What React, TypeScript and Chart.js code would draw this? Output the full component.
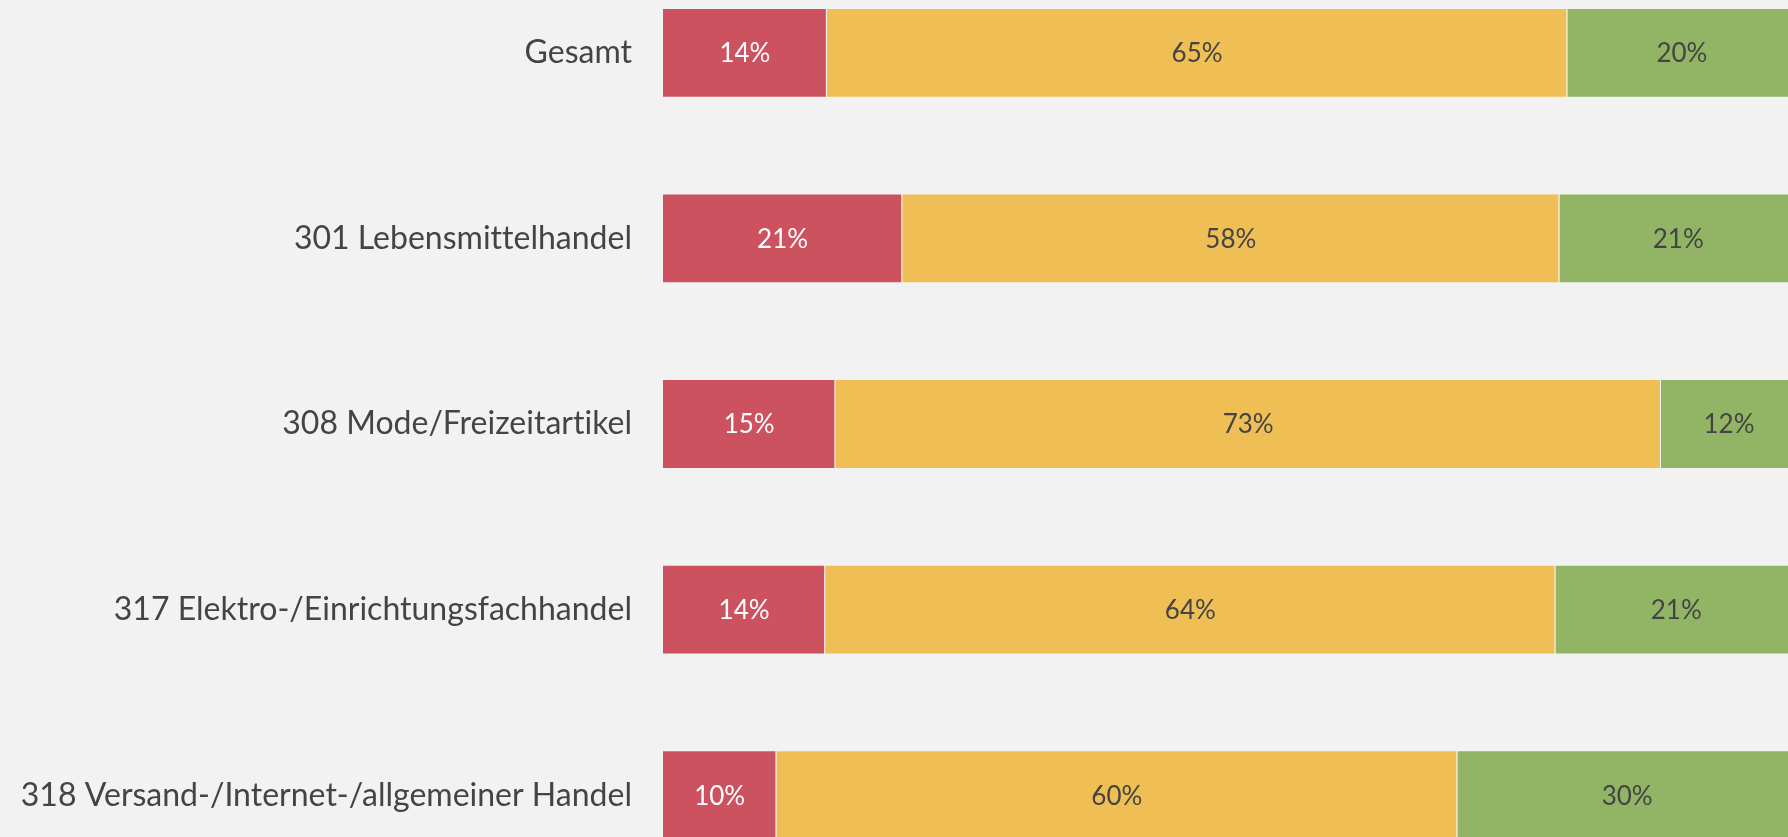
import React, { useEffect, useRef } from "react";
import { Chart, registerables } from "chart.js";

Chart.register(...registerables);

const categories = [
  "Gesamt",
  "301 Lebensmittelhandel",
  "308 Mode/Freizeitartikel",
  "317 Elektro-/Einrichtungsfachhandel",
  "318 Versand-/Internet-/allgemeiner Handel",
];
const negativ = [14.45, 21.1, 15.2, 14.3, 10.0];
const neutral = [65.3, 57.95, 72.8, 64.4, 60.05];
const positiv = [20.2, 20.95, 12.0, 21.3, 29.95];

const seriesNames = ["negativ", "neutral", "positiv"];
const seriesColors = ["#cc5260", "#efbf55", "#91b565"];
const labelColors = ["#ffffff", "#444444", "#444444"];

const FONT = "Lato, 'Noto Sans', sans-serif";

const noLigatures = {
  id: "noLigatures",
  beforeDraw(chart: any) {
    try {
      chart.ctx.letterSpacing = "0.01px";
    } catch (e) {}
  },
};

const valueLabels = {
  id: "valueLabels",
  afterDatasetsDraw(chart: any) {
    const ctx = chart.ctx;
    ctx.save();
    ctx.font = `26px ${FONT}`;
    ctx.textAlign = "center";
    ctx.textBaseline = "middle";
    chart.data.datasets.forEach((ds: any, di: number) => {
      const meta = chart.getDatasetMeta(di);
      meta.data.forEach((el: any, i: number) => {
        const v = ds.data[i];
        const x = (el.x + el.base) / 2;
        ctx.fillStyle = labelColors[di];
        ctx.fillText(Math.round(v) + "%", x, el.y + 1);
      });
    });
    ctx.restore();
  },
};

export default function App() {
  const ref = useRef<HTMLCanvasElement | null>(null);
  useEffect(() => {
    if (!ref.current) return;
    const chart = new Chart(ref.current, {
      type: "bar",
      data: {
        labels: categories,
        datasets: [negativ, neutral, positiv].map((d, i) => ({
          label: seriesNames[i],
          data: d,
          backgroundColor: seriesColors[i],
          borderColor: "rgba(255,255,255,0.12)",
          borderWidth: 1,
          barPercentage: 0.4836,
          categoryPercentage: 1,
        })),
      },
      options: {
        indexAxis: "y",
        responsive: false,
        animation: false,
        layout: { padding: 0 },
        plugins: {
          legend: { display: false },
          tooltip: { enabled: false },
        },
        scales: {
          x: {
            stacked: true,
            min: 0,
            max: 100,
            display: false,
          },
          y: {
            stacked: true,
            grid: { display: false, drawTicks: false },
            border: { display: false },
            ticks: {
              padding: 31,
              color: "#444444",
              font: { family: FONT, size: 32 },
            },
            afterFit(scale: any) {
              scale.width = 663;
              scale.paddingTop = 0;
              scale.paddingBottom = 0;
            },
          },
        },
      },
      plugins: [noLigatures, valueLabels],
    });
    return () => chart.destroy();
  }, []);
  return (
    <div
      style={{
        position: "fixed",
        inset: 0,
        overflow: "hidden",
        background: "#f2f2f2",
      }}
    >
      <canvas
        ref={ref}
        width={1797}
        height={928}
        style={{ position: "absolute", left: 0, top: -40, width: 1797, height: 928 }}
      />
    </div>
  );
}
